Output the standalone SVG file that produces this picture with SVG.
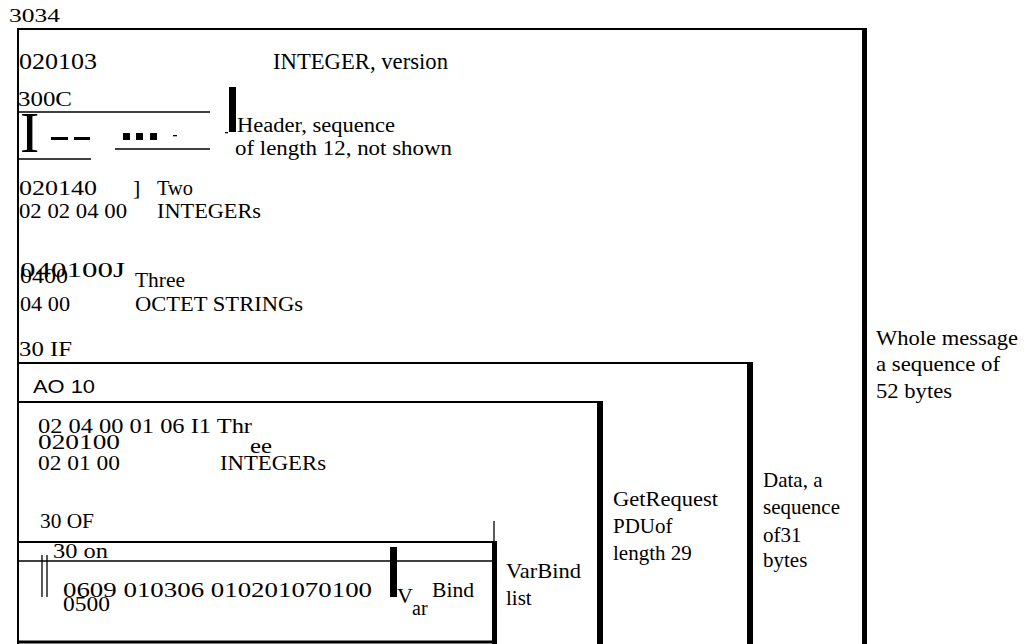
<svg xmlns="http://www.w3.org/2000/svg" width="1029" height="644" viewBox="0 0 1029 644" font-family="'Liberation Serif','Times New Roman',serif" font-size="21">
<style>
text{fill:#000}
.s{font-family:"Liberation Sans",Arial,sans-serif}
.ln{stroke:#000;stroke-width:2;fill:none}
.th{stroke:#000;stroke-width:1.3;fill:none}
.bar{fill:#000}
</style>
<rect width="1029" height="644" fill="#fff"/>
<g id="message">
<path class="ln" d="M18,644 V29 H864"/>
<rect class="bar" x="862" y="28" width="5" height="616"/>
<text x="9" y="22" font-size="19" textLength="51" lengthAdjust="spacingAndGlyphs">3034</text>
<text x="19" y="69" font-size="23" textLength="78" lengthAdjust="spacingAndGlyphs">020103</text>
<text x="273" y="69" font-size="23" textLength="175" lengthAdjust="spacingAndGlyphs">INTEGER, version</text>
<text x="18" y="106" textLength="54" lengthAdjust="spacingAndGlyphs">300C</text>
<text x="19" y="195" font-size="22" textLength="78" lengthAdjust="spacingAndGlyphs">020140</text>
<text x="133" y="195" font-size="22">]</text>
<text x="157" y="195" font-size="22" textLength="36" lengthAdjust="spacingAndGlyphs">Two</text>
<text x="19" y="218" textLength="108" lengthAdjust="spacingAndGlyphs">02 02 04 00</text>
<text x="157" y="218" textLength="104" lengthAdjust="spacingAndGlyphs">INTEGERs</text>
<text x="20" y="277" textLength="105" lengthAdjust="spacingAndGlyphs">040100J</text>
<text x="20" y="283" font-size="22" textLength="48" lengthAdjust="spacingAndGlyphs">0400</text>
<text x="135" y="287" font-size="22" textLength="50" lengthAdjust="spacingAndGlyphs">Three</text>
<text x="20" y="311" textLength="50" lengthAdjust="spacingAndGlyphs">04 00</text>
<text x="135" y="311" textLength="168" lengthAdjust="spacingAndGlyphs">OCTET STRINGs</text>
<text x="19" y="356" textLength="53" lengthAdjust="spacingAndGlyphs">30 IF</text>
<text x="876" y="345" textLength="142" lengthAdjust="spacingAndGlyphs">Whole message</text>
<text x="876" y="371" textLength="124" lengthAdjust="spacingAndGlyphs">a sequence of</text>
<text x="876" y="398" textLength="76" lengthAdjust="spacingAndGlyphs">52 bytes</text>
</g>
<g id="header">
<line class="th" x1="18" y1="112" x2="210" y2="112"/>
<line class="th" x1="18" y1="159" x2="91" y2="159"/>
<line class="th" x1="115" y1="149" x2="210" y2="149"/>
<text x="20" y="152" font-size="58">I</text>
<rect class="bar" x="51" y="137" width="17" height="3"/>
<rect class="bar" x="74" y="137" width="16" height="3"/>
<rect class="bar" x="123" y="133" width="7" height="7"/>
<rect class="bar" x="136" y="133" width="7" height="7"/>
<rect class="bar" x="150" y="133" width="7" height="7"/>
<rect class="bar" x="173" y="135" width="4" height="1.3"/>
<rect class="bar" x="225" y="132" width="3" height="1.3"/>
<rect class="bar" x="229" y="87" width="7" height="45"/>
<text x="237" y="132" font-size="20" textLength="158" lengthAdjust="spacingAndGlyphs">Header, sequence</text>
<text x="235" y="155" font-size="20" textLength="217" lengthAdjust="spacingAndGlyphs">of length 12, not shown</text>
</g>
<g id="data">
<line class="ln" x1="18" y1="363" x2="750" y2="363"/>
<rect class="bar" x="747" y="362" width="6" height="282"/>
<text class="s" x="33" y="393" font-size="18" textLength="62" lengthAdjust="spacingAndGlyphs">AO 10</text>
<text x="763" y="487">Data, a</text>
<text x="763" y="514">sequence</text>
<text x="763" y="542">of31</text>
<text x="763" y="567">bytes</text>
</g>
<g id="pdu">
<line class="ln" x1="18" y1="402" x2="600" y2="402"/>
<rect class="bar" x="597" y="401" width="6" height="243"/>
<text x="38" y="433" font-size="20" textLength="214" lengthAdjust="spacingAndGlyphs">02 04 00 01 06 I1  Thr</text>
<text x="38" y="449" font-size="20" textLength="82" lengthAdjust="spacingAndGlyphs">020100</text>
<text x="250" y="453" font-size="20" textLength="22" lengthAdjust="spacingAndGlyphs">ee</text>
<text x="38" y="470" font-size="20" textLength="82" lengthAdjust="spacingAndGlyphs">02 01 00</text>
<text x="220" y="470" font-size="20" textLength="106" lengthAdjust="spacingAndGlyphs">INTEGERs</text>
<text x="40" y="528" font-size="20" textLength="54" lengthAdjust="spacingAndGlyphs">30 OF</text>
<text x="613" y="506" textLength="105" lengthAdjust="spacingAndGlyphs">GetRequest</text>
<text x="613" y="533">PDUof</text>
<text x="613" y="560">length 29</text>
</g>
<g id="varbind-list">
<line class="th" x1="494" y1="521" x2="494" y2="542"/>
<line class="ln" x1="18" y1="542" x2="494" y2="542"/>
<rect class="bar" x="492" y="541" width="5" height="103"/>
<line class="th" x1="18" y1="561" x2="494" y2="561"/>
<line x1="18" y1="642" x2="497" y2="642" stroke="#000" stroke-width="3"/>
<line class="th" x1="42" y1="555" x2="42" y2="597"/>
<line class="th" x1="47" y1="555" x2="47" y2="597"/>
<text x="53" y="558" font-size="22" textLength="55" lengthAdjust="spacingAndGlyphs">30 on</text>
<text x="63" y="597" textLength="309" lengthAdjust="spacingAndGlyphs">0609 010306 010201070100</text>
<text x="63" y="611" textLength="47" lengthAdjust="spacingAndGlyphs">0500</text>
<rect class="bar" x="390" y="547" width="7" height="50"/>
<text x="397" y="603" font-size="22">V</text>
<text x="412" y="615" font-size="20">ar</text>
<text x="432" y="597" textLength="42" lengthAdjust="spacingAndGlyphs">Bind</text>
<text x="506" y="578" textLength="75" lengthAdjust="spacingAndGlyphs">VarBind</text>
<text x="506" y="605">list</text>
</g>
<g id="connectors"/>
</svg>
